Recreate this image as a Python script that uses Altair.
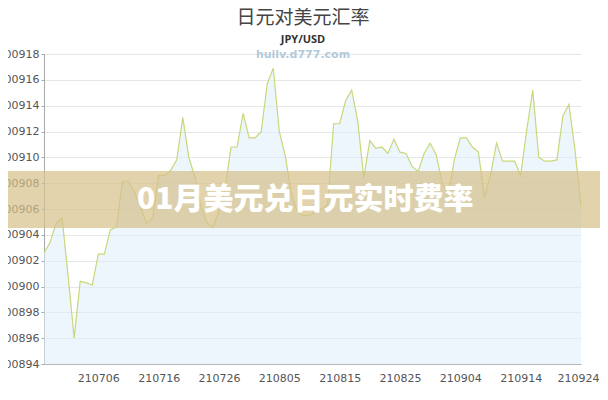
import altair as alt
import pandas as pd

# ---- data ----
dates = [d.strftime("%y%m%d") for d in pd.date_range("2021-06-27", "2021-09-24")]
rates_e5 = [
    902.6, 903.4, 904.9, 905.3, 900.8, 896.0, 900.4, 900.3, 900.1, 902.5,
    902.5, 904.4, 904.6, 908.15, 908.15, 907.3, 906.1, 904.9, 905.3, 908.6,
    908.6, 909.0, 909.8, 913.1, 910.0, 908.5, 906.2, 904.9, 904.6, 905.8,
    907.5, 910.8, 910.8, 913.4, 911.5, 911.5, 912.0, 915.7, 916.9, 912.0,
    910.1, 907.2, 905.8, 905.5, 905.5, 905.8, 906.0, 906.3, 912.6, 912.6,
    914.4, 915.2, 912.8, 908.4, 911.3, 910.7, 910.8, 910.3, 911.4, 910.4,
    910.3, 909.3, 908.9, 910.3, 911.1, 910.2, 908.0, 907.0, 909.8, 911.5,
    911.5, 910.8, 910.4, 906.9, 908.6, 911.1, 909.7, 909.7, 909.7, 908.6,
    912.1, 915.2, 910.0, 909.7, 909.7, 909.8, 913.2, 914.1, 910.6, 906.2,
]
x_ticks = ["210706", "210716", "210726", "210805", "210815",
           "210825", "210904", "210914", "210924"]
y_ticks = [0.00894, 0.00896, 0.00898, 0.00900, 0.00902, 0.00904, 0.00906,
           0.00908, 0.00910, 0.00912, 0.00914, 0.00916, 0.00918]
title_text = "日元对美元汇率"
subtitle_text = "JPY/USD"
watermark_text = "huilv.d777.com"
banner_text = "01月美元兑日元实时费率"

df = pd.DataFrame({"date": dates, "rate": [v * 1e-5 for v in rates_e5]})

W, H = 537, 310
y_min, y_max = y_ticks[0], y_ticks[-1]

x_enc = alt.X(
    "date:O",
    sort=dates,
    scale=alt.Scale(type="point", padding=0),
    axis=alt.Axis(
        values=x_ticks, labelAngle=0, title=None, ticks=False, grid=False,
        domainColor="#b8b8b8", labelPadding=8, labelFont="DejaVu Sans",
        labelFontSize=11, labelColor="#555555",
        labelFlush=1, labelFlushOffset=18,
    ),
)
y_enc = alt.Y(
    "rate:Q",
    scale=alt.Scale(domain=[y_min, y_max], nice=False, zero=False),
    axis=alt.Axis(
        values=y_ticks, format=".5f", title=None, grid=True,
        gridColor="#e6e6e6", domainColor="#aaaaaa", tickColor="#aaaaaa",
        tickSize=3, labelPadding=2, labelFont="DejaVu Sans",
        labelFontSize=11, labelColor="#555555",
    ),
)

base = alt.Chart(df).encode(x=x_enc, y=y_enc)

area = base.mark_area(color="#ddeefa", opacity=0.55).encode(y2=alt.datum(y_min))
line = base.mark_line(color="#c8d87a", strokeWidth=1.2)


def text_layer(txt, x, y, **kw):
    return alt.Chart(pd.DataFrame({"t": [txt]})).mark_text(**kw).encode(
        text="t:N", x=alt.value(x), y=alt.value(y)
    )


title = text_layer(title_text, 259, -36, align="center", baseline="middle",
                   font="Noto Sans CJK SC", fontSize=19, color="#444444")
subtitle = text_layer(subtitle_text, 259, -14, align="center", baseline="middle",
                      font="Open Sans", fontSize=11, fontWeight="bold", color="#333333")
watermark = text_layer(watermark_text, 259, 1, align="center", baseline="middle",
                       font="DejaVu Sans", fontSize=11, fontWeight="bold",
                       color="#b3cadb")

banner = alt.Chart(pd.DataFrame({"b": [1]})).mark_rect(
    color="#d6c08a", opacity=0.7
).encode(x=alt.value(-60), x2=alt.value(620), y=alt.value(117), y2=alt.value(174))

banner_label = text_layer(banner_text, 93, 146, align="left", baseline="middle",
                          font="Noto Sans CJK SC", fontSize=30, fontWeight=900,
                          color="#ffffff")

chart = alt.layer(
    area, line, watermark, title, subtitle, banner, banner_label
).properties(
    width=W, height=H,
    autosize=alt.AutoSizeParams(type="none"),
    padding={"left": 36, "top": 46, "right": 19, "bottom": 28},
).configure_view(stroke=None)

chart.save("out.html", embed_options={"renderer": "svg", "actions": False})
